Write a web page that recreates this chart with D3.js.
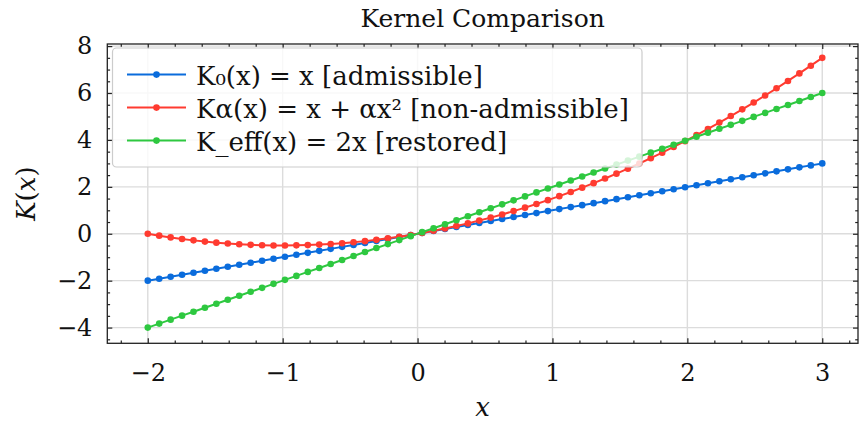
<!DOCTYPE html>
<html><head><meta charset="utf-8">
<script src="https://cdn.jsdelivr.net/npm/d3@7"></script>
<style>body{margin:0;background:#fff}svg{display:block}</style>
</head><body>
<svg id="chart" width="859" height="421"></svg>
<script>
// ---- data ----
const xValues = [-2.0000,-1.9153,-1.8305,-1.7458,-1.6610,-1.5763,-1.4915,-1.4068,-1.3220,-1.2373,
  -1.1525,-1.0678,-0.9831,-0.8983,-0.8136,-0.7288,-0.6441,-0.5593,-0.4746,-0.3898,
  -0.3051,-0.2203,-0.1356,-0.0508,0.0339,0.1186,0.2034,0.2881,0.3729,0.4576,
  0.5424,0.6271,0.7119,0.7966,0.8814,0.9661,1.0508,1.1356,1.2203,1.3051,
  1.3898,1.4746,1.5593,1.6441,1.7288,1.8136,1.8983,1.9831,2.0678,2.1525,
  2.2373,2.3220,2.4068,2.4915,2.5763,2.6610,2.7458,2.8305,2.9153,3.0000];
const k0Values = [-2.000,-1.915,-1.831,-1.746,-1.661,-1.576,-1.492,-1.407,-1.322,-1.237,
  -1.153,-1.068,-0.983,-0.898,-0.814,-0.729,-0.644,-0.559,-0.475,-0.390,
  -0.305,-0.220,-0.136,-0.051,0.034,0.119,0.203,0.288,0.373,0.458,
  0.542,0.627,0.712,0.797,0.881,0.966,1.051,1.136,1.220,1.305,
  1.390,1.475,1.559,1.644,1.729,1.814,1.898,1.983,2.068,2.153,
  2.237,2.322,2.407,2.492,2.576,2.661,2.746,2.831,2.915,3.000];
const kAlphaValues = [0.000,-0.081,-0.155,-0.222,-0.282,-0.334,-0.379,-0.417,-0.448,-0.472,
  -0.488,-0.498,-0.500,-0.495,-0.483,-0.463,-0.437,-0.403,-0.362,-0.314,
  -0.259,-0.196,-0.126,-0.050,0.034,0.126,0.224,0.330,0.442,0.562,
  0.689,0.824,0.965,1.114,1.270,1.433,1.603,1.780,1.965,2.157,
  2.356,2.562,2.775,2.996,3.223,3.458,3.700,3.949,4.206,4.469,
  4.740,5.018,5.303,5.595,5.895,6.202,6.515,6.836,7.165,7.500];
const kEffValues = [-4.000,-3.831,-3.661,-3.492,-3.322,-3.153,-2.983,-2.814,-2.644,-2.475,
  -2.305,-2.136,-1.966,-1.797,-1.627,-1.458,-1.288,-1.119,-0.949,-0.780,
  -0.610,-0.441,-0.271,-0.102,0.068,0.237,0.407,0.576,0.746,0.915,
  1.085,1.254,1.424,1.593,1.763,1.932,2.102,2.271,2.441,2.610,
  2.780,2.949,3.119,3.288,3.458,3.627,3.797,3.966,4.136,4.305,
  4.475,4.644,4.814,4.983,5.153,5.322,5.492,5.661,5.831,6.000];
const seriesNames = ["K\u2080(x) = x [admissible]", "K\u03b1(x) = x + \u03b1x\u00b2 [non-admissible]", "K_eff(x) = 2x [restored]"];
const xTickValues = [-2, -1, 0, 1, 2, 3];
const yTickValues = [-4, -2, 0, 2, 4, 6, 8];
const titleText = "Kernel Comparison";

// ---- styles / layout ----
const colors = ["#0a6cdc", "#ff3b30", "#2ec840"];
const FONT = "'DejaVu Serif', serif";
const plot = {left: 107.3, right: 858, top: 44, bottom: 343.3};
const xDomain = [-2.30, 3.265], yDomain = [-4.67, 8.09];

const svg = d3.select("#chart");
const x = d3.scaleLinear().domain(xDomain).range([plot.left, plot.right]);
const y = d3.scaleLinear().domain(yDomain).range([plot.bottom, plot.top]);

// grid
const grid = svg.append("g");
grid.selectAll("line.vx").data(xTickValues).join("line")
  .attr("x1", d => x(d)).attr("x2", d => x(d)).attr("y1", plot.top).attr("y2", plot.bottom)
  .attr("stroke", "#dcdcdc").attr("stroke-width", 1.4);
grid.selectAll("line.hy").data(yTickValues).join("line")
  .attr("y1", d => y(d)).attr("y2", d => y(d)).attr("x1", plot.left).attr("x2", plot.right)
  .attr("stroke", "#dcdcdc").attr("stroke-width", 1.4);

// series
const series = [k0Values, kAlphaValues, kEffValues];
const line = d3.line().x((d, i) => x(xValues[i])).y(d => y(d));
series.forEach((vals, s) => {
  const g = svg.append("g");
  g.append("path").datum(vals).attr("d", line).attr("fill", "none")
    .attr("stroke", colors[s]).attr("stroke-width", 2);
  g.selectAll("circle").data(vals).join("circle")
    .attr("cx", (d, i) => x(xValues[i])).attr("cy", d => y(d)).attr("r", 3.3)
    .attr("fill", colors[s]);
});

// axes
const xMinor = d3.range(-2.2, 3.3, 0.2).map(v => +v.toFixed(1)).filter(v => Math.abs(v - Math.round(v)) > 1e-6);
const yMinor = d3.range(-4.5, 8.01, 0.5).filter(v => Math.abs(v / 2 - Math.round(v / 2)) > 1e-6);
const axCol = "#222";
function styleAxis(g) {
  g.select(".domain").remove();
  g.selectAll(".tick line").attr("stroke", axCol).attr("stroke-width", 1.2);
  g.selectAll("text").attr("font-family", FONT).attr("font-size", 24).attr("fill", "#111");
}
const MAJ = 5, MIN = 2.8;
svg.append("g").attr("transform", `translate(0,${plot.bottom})`)
  .call(d3.axisBottom(x).tickValues(xTickValues).tickSize(-MAJ).tickPadding(21).tickFormat(d3.format("d"))).call(styleAxis);
svg.append("g").attr("transform", `translate(0,${plot.bottom})`)
  .call(d3.axisBottom(x).tickValues(xMinor).tickSize(-MIN).tickFormat("")).call(styleAxis);
svg.append("g").attr("transform", `translate(0,${plot.top})`)
  .call(d3.axisTop(x).tickValues(xTickValues).tickSize(-MAJ).tickFormat("")).call(styleAxis);
svg.append("g").attr("transform", `translate(0,${plot.top})`)
  .call(d3.axisTop(x).tickValues(xMinor).tickSize(-MIN).tickFormat("")).call(styleAxis);
svg.append("g").attr("transform", `translate(${plot.left},0)`)
  .call(d3.axisLeft(y).tickValues(yTickValues).tickSize(-MAJ).tickPadding(15).tickFormat(d3.format("d"))).call(styleAxis);
svg.append("g").attr("transform", `translate(${plot.left},0)`)
  .call(d3.axisLeft(y).tickValues(yMinor).tickSize(-MIN).tickFormat("")).call(styleAxis);
svg.append("g").attr("transform", `translate(${plot.right},0)`)
  .call(d3.axisRight(y).tickValues(yTickValues).tickSize(-MAJ).tickFormat("")).call(styleAxis);
svg.append("g").attr("transform", `translate(${plot.right},0)`)
  .call(d3.axisRight(y).tickValues(yMinor).tickSize(-MIN).tickFormat("")).call(styleAxis);

// frame
svg.append("rect").attr("x", plot.left).attr("y", plot.top)
  .attr("width", plot.right - plot.left).attr("height", plot.bottom - plot.top)
  .attr("fill", "none").attr("stroke", axCol).attr("stroke-width", 1.3);

// legend
const leg = {x: 112.5, y: 48, w: 529.5, h: 119, row0: 74.6, dy: 33};
const lg = svg.append("g");
lg.append("rect").attr("x", leg.x).attr("y", leg.y).attr("width", leg.w).attr("height", leg.h)
  .attr("rx", 4).attr("fill", "#fff").attr("fill-opacity", 0.8)
  .attr("stroke", "#cccccc").attr("stroke-width", 1.2);
seriesNames.forEach((name, i) => {
  const ry = leg.row0 + i * leg.dy;
  lg.append("line").attr("x1", 127).attr("x2", 186).attr("y1", ry).attr("y2", ry)
    .attr("stroke", colors[i]).attr("stroke-width", 2);
  lg.append("circle").attr("cx", 156.5).attr("cy", ry).attr("r", 3.3).attr("fill", colors[i]);
  lg.append("text").attr("x", 196).attr("y", ry + 10.5).attr("font-family", FONT)
    .attr("font-size", 26).attr("fill", "#111").text(name);
});

// title and labels
svg.append("text").attr("x", (plot.left + plot.right) / 2).attr("y", 26.7)
  .attr("text-anchor", "middle").attr("font-family", FONT).attr("font-size", 25).attr("fill", "#111")
  .text(titleText);
const xl = svg.append("text").attr("x", (plot.left + plot.right) / 2).attr("y", 416)
  .attr("text-anchor", "middle").attr("font-family", FONT).attr("font-size", 26).attr("fill", "#111");
xl.append("tspan").attr("font-style", "italic").text("x");
const yl = svg.append("text").attr("transform", `translate(35,${(plot.top + plot.bottom) / 2}) rotate(-90)`)
  .attr("text-anchor", "middle").attr("font-family", FONT).attr("font-size", 26).attr("fill", "#111");
yl.append("tspan").attr("font-style", "italic").text("K");
yl.append("tspan").text("(");
yl.append("tspan").attr("font-style", "italic").text("x");
yl.append("tspan").text(")");
</script>
</body></html>
